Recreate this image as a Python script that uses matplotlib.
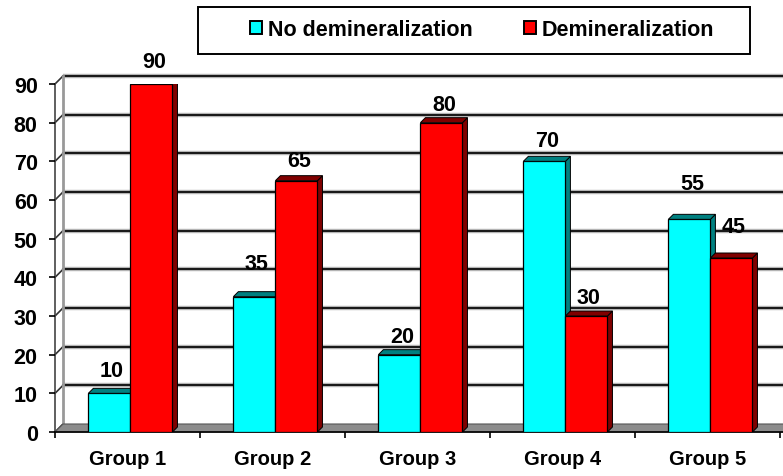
# Demineralization by group - 3D-look clustered bars
import matplotlib.pyplot as plt
from matplotlib.patches import Patch, Polygon, Rectangle

plt.rcParams["font.family"] = ["Liberation Sans", "DejaVu Sans"]
plt.rcParams["font.weight"] = "bold"

groups = ["Group 1", "Group 2", "Group 3", "Group 4", "Group 5"]
no_demin = [10, 35, 20, 70, 55]
demin = [90, 65, 80, 30, 45]
series_names = ["No demineralization", "Demineralization"]
y_ticks = [0, 10, 20, 30, 40, 50, 60, 70, 80, 90]

FACE = ["#00ffff", "#ff0000"]
DARK = ["#008080", "#800000"]

W, H = 783, 477
fig = plt.figure(figsize=(W / 100, H / 100), dpi=100)
ax = fig.add_axes([55 / W, 44 / H, 725 / W, 348 / H])
ax.set_xlim(-0.5, 4.5)
ax.set_ylim(0, 90)

# pixel -> data conversions
px_x = 5 / 725
px_y = 90 / 348
wdx, wdy = 8 * px_x, 8 * px_y  # wall depth
bdx, bdy = 5 * px_x, 5 * px_y  # bar depth

# floor
ax.add_patch(Polygon([(-0.5, 0), (4.6, 0), (4.6 + wdx, wdy), (-0.5 + wdx, wdy)],
                     closed=True, facecolor="#8c8c8c", edgecolor="#555555",
                     lw=0.8, zorder=1, clip_on=False))

# back wall gridlines and left wall
for t in y_ticks:
    if t > 0:
        ax.plot([-0.5 + wdx, 4.6 + wdx], [t + wdy, t + wdy], color="#bbbbbb",
                lw=3.2, zorder=0.5, clip_on=False, solid_capstyle="butt")
        ax.plot([-0.5 + wdx, 4.6 + wdx], [t + wdy, t + wdy], color="#1a1a1a",
                lw=1.5, zorder=0.6, clip_on=False)
    ax.plot([-0.5, -0.5 + wdx], [t, t + wdy], color="#333333", lw=1.2,
            zorder=0.6, clip_on=False)
ax.plot([-0.5 + wdx, -0.5 + wdx], [wdy, 90 + wdy], color="#999999", lw=2.0,
        zorder=0.6, clip_on=False)
ax.plot([-0.5, -0.5], [0, 90], color="#444444", lw=1.2, zorder=0.7,
        clip_on=False)

# bars with top and side faces
bar_w = 0.29
shift = 0.02
label_lift = [[6.0, 8.5, 4.8, 5.3, 9.2], [5.8, 5.2, 4.8, 4.8, 8.2]]
for s, vals in enumerate([no_demin, demin]):
    for i, v in enumerate(vals):
        x0 = i + shift - bar_w + s * bar_w
        x1 = x0 + bar_w
        ax.add_patch(Rectangle((x0, 0), bar_w, v, facecolor=FACE[s],
                               edgecolor="black", lw=0.9, zorder=3))
        ax.add_patch(Polygon([(x0, v), (x0 + bdx, v + bdy), (x1 + bdx, v + bdy),
                              (x1, v)], closed=True, facecolor=DARK[s],
                             edgecolor="black", lw=0.7, zorder=3))
        ax.add_patch(Polygon([(x1, 0), (x1 + bdx, bdy), (x1 + bdx, v + bdy),
                              (x1, v)], closed=True, facecolor=DARK[s],
                             edgecolor="black", lw=0.7, zorder=2.9))
        ax.text((x0 + x1) / 2 + bdx / 2, v + label_lift[s][i], str(v),
                ha="center", va="center", fontsize=15.5, fontweight="bold",
                zorder=4)

# axes styling
for sp in ax.spines.values():
    sp.set_visible(False)
ax.axhline(0, color="black", lw=1.2, zorder=2, clip_on=False,
           xmax=1.01)
ax.set_yticks(y_ticks)
ax.tick_params(axis="y", length=4.5, width=1.2, pad=8, labelsize=15.5)
ax.set_xticks([-0.5, 0.5, 1.5, 2.5, 3.5, 4.5])
ax.set_xticklabels([])
ax.set_xticks(range(len(groups)), minor=True)
ax.set_xticklabels(groups, minor=True, fontsize=14.5, fontweight="bold")
ax.tick_params(axis="x", which="major", length=4, width=1.2)
ax.tick_params(axis="x", which="minor", length=0, pad=12)
for lbl in ax.get_yticklabels():
    lbl.set_fontweight("bold")

# legend in a drawn box
fig.patches.append(Rectangle((198 / W, 1 - 55 / H), 552 / W, 47 / H,
                             transform=fig.transFigure, facecolor="white",
                             edgecolor="black", lw=1.4))
handles = [Patch(facecolor=FACE[k], edgecolor="black", lw=1.4)
           for k in range(2)]
fig.legend(handles, series_names, loc="center", ncol=2,
           bbox_to_anchor=(482 / W, 1 - 31 / H), frameon=False,
           prop={"weight": "bold", "size": 15.5}, handlelength=0.55,
           handleheight=0.55, handletextpad=0.25, columnspacing=2.4)

fig.savefig("out.png", dpi=100)
plt.close(fig)
